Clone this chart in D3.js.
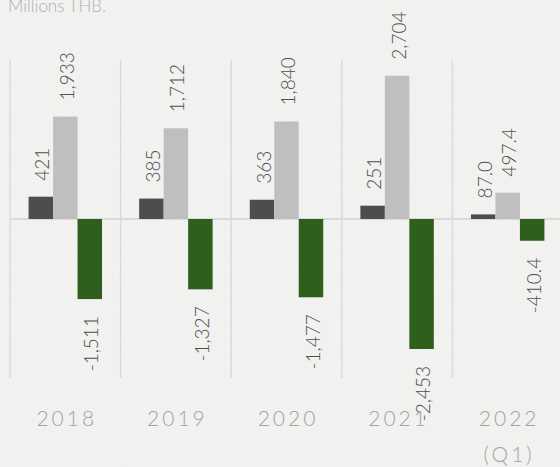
<!DOCTYPE html>
<html><head><meta charset="utf-8">
<script src="https://cdn.jsdelivr.net/npm/d3@7/dist/d3.min.js"></script>
<style>
html,body{margin:0;padding:0;background:#f2f2f0;}
svg{display:block;}
</style></head>
<body><svg id="c" width="560" height="467"></svg>
<script>
const categories = ["2018","2019","2020","2021","2022"];
const subLabels = ["", "", "", "", "(Q1)"];
const series = ["dark","light","green"];
const darkValues = [421, 385, 363, 251, 87.0];
const lightValues = [1933, 1712, 1840, 2704, 497.4];
const greenValues = [-1511, -1327, -1477, -2453, -410.4];
const darkLabels = ["421","385","363","251","87.0"];
const lightLabels = ["1,933","1,712","1,840","2,704","497.4"];
const greenLabels = ["-1,511","-1,327","-1,477","-2,453","-410.4"];
const colors = {dark:"#4d4d4d", light:"#bfbfbf", green:"#2f5f1c"};

const svg = d3.select("#c");
const W = 560, H = 467;
const defs = svg.append("defs");
const f = defs.append("filter").attr("id","paper").attr("x",0).attr("y",0).attr("width","100%").attr("height","100%");
f.append("feTurbulence").attr("type","fractalNoise").attr("baseFrequency",0.7).attr("numOctaves",2).attr("seed",3).attr("result","n");
f.append("feColorMatrix").attr("in","n").attr("type","matrix")
  .attr("values","0 0 0 0 0.5  0 0 0 0 0.5  0 0 0 0 0.5  0 0 0 0.06 0");
svg.append("rect").attr("width",W).attr("height",H).attr("fill","#f3f3f1");
svg.append("rect").attr("width",W).attr("height",H).attr("filter","url(#paper)");

const x0 = d3.scaleBand().domain(categories).range([10, 563]).padding(0);
const bw = x0.bandwidth();
const x1 = d3.scaleBand().domain(series).range([bw*0.168, bw*(1-0.168)]).padding(0);
const y = d3.scaleLinear().domain([-3000, 3000]).range([378, 60]);

// vertical separators
svg.append("g").selectAll("line").data(categories).join("line")
  .attr("x1", d => x0(d)).attr("x2", d => x0(d))
  .attr("y1", y(3000)).attr("y2", y(-3000))
  .attr("stroke", "#dadada").attr("stroke-width", 1.5);

// zero line
svg.append("line").attr("x1", 10).attr("x2", W)
  .attr("y1", y(0)).attr("y2", y(0))
  .attr("stroke", "#dadada").attr("stroke-width", 2);

const rows = categories.map((c,i) => ({
  cat: c,
  vals: [
    {s:"dark", v: darkValues[i], t: darkLabels[i]},
    {s:"light", v: lightValues[i], t: lightLabels[i]},
    {s:"green", v: greenValues[i], t: greenLabels[i]}
  ]
}));

const g = svg.append("g").selectAll("g").data(rows).join("g")
  .attr("transform", d => `translate(${x0(d.cat)},0)`);

g.selectAll("rect").data(d => d.vals).join("rect")
  .attr("x", d => x1(d.s)).attr("width", x1.bandwidth())
  .attr("y", d => Math.min(y(d.v), y(0)))
  .attr("height", d => Math.abs(y(d.v) - y(0)))
  .attr("fill", d => colors[d.s]);

g.selectAll("text.val").data(d => d.vals).join("text")
  .attr("class","val")
  .attr("transform", d => {
    const cx = x1(d.s) + x1.bandwidth()/2;
    const yy = d.v >= 0 ? y(d.v) - 16 : y(d.v) + 17;
    return `translate(${cx},${yy}) rotate(-90)`;
  })
  .attr("text-anchor", d => d.v >= 0 ? "start" : "end")
  .attr("dy", "0.45em")
  .attr("font-family", "Lato, sans-serif")
  .attr("font-weight", 300)
  .attr("font-size", 19)
  .attr("fill", "#4f4f4f")
  .text(d => d.t);

// category labels
svg.append("g").selectAll("text").data(categories).join("text")
  .attr("x", d => x0(d) + bw/2 + 1.5).attr("y", 426)
  .attr("text-anchor","middle")
  .attr("font-family","Lato, sans-serif").attr("font-size",21)
  .attr("font-weight", 300)
  .attr("letter-spacing","3px")
  .attr("fill","#a3a3a3")
  .text(d => d);
svg.append("g").selectAll("text").data(categories.map((c,i)=>({c, s: subLabels[i]})).filter(d=>d.s)).join("text")
  .attr("x", d => x0(d.c) + bw/2 + 1.5).attr("y", 462)
  .attr("text-anchor","middle")
  .attr("font-family","Lato, sans-serif").attr("font-size",21)
  .attr("font-weight", 300)
  .attr("letter-spacing","3px")
  .attr("fill","#a3a3a3")
  .text(d => d.s);

svg.append("text").attr("x", 8).attr("y", 12)
  .attr("font-family","Lato, sans-serif").attr("font-size",17)
  .attr("font-weight", 300)
  .attr("fill","#b0b0b0").text("Millions THB.");
</script></body></html>
